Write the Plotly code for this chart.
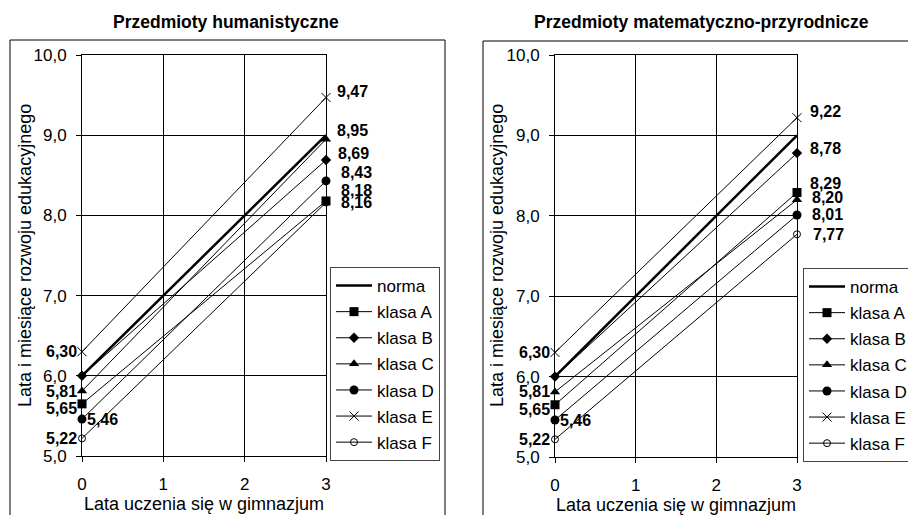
import plotly.graph_objects as go

# ---------------- data ----------------
years = [0, 3]
series_names = ["norma", "klasa A", "klasa B", "klasa C", "klasa D", "klasa E", "klasa F"]

hum_norma = [6.00, 9.00]
hum_A = [5.65, 8.18]
hum_B = [6.00, 8.69]
hum_C = [5.81, 8.95]
hum_D = [5.46, 8.43]
hum_E = [6.30, 9.47]
hum_F = [5.22, 8.16]

mat_norma = [6.00, 9.00]
mat_A = [5.65, 8.29]
mat_B = [6.00, 8.78]
mat_C = [5.81, 8.20]
mat_D = [5.46, 8.01]
mat_E = [6.30, 9.22]
mat_F = [5.22, 7.77]

y_ticks = [5, 6, 7, 8, 9, 10]
x_ticks = [0, 1, 2, 3]

title_left = "Przedmioty humanistyczne"
title_right = "Przedmioty matematyczno-przyrodnicze"
x_title = "Lata uczenia się w gimnazjum"
y_title = "Lata i miesiące rozwoju edukacyjnego"

# ---------------- styles ----------------
FONT = "Liberation Sans, Arial, sans-serif"
# the figure is a little wider than the 908 px window so that the right
# panel and its legend run off the visible edge, as in the reference
W, H = 960, 515

styles = {
    "norma": dict(mode="lines", line=dict(width=2.5), marker=None),
    "klasa A": dict(mode="lines+markers", line=dict(width=1), marker=dict(symbol="square", size=9)),
    "klasa B": dict(mode="lines+markers", line=dict(width=1), marker=dict(symbol="diamond", size=8)),
    "klasa C": dict(mode="lines+markers", line=dict(width=1), marker=dict(symbol="triangle-up", size=9)),
    "klasa D": dict(mode="lines+markers", line=dict(width=1), marker=dict(symbol="circle", size=9)),
    "klasa E": dict(mode="lines+markers", line=dict(width=1),
                    marker=dict(symbol="x-thin", size=9, line=dict(width=1, color="black"))),
    "klasa F": dict(mode="lines+markers", line=dict(width=1),
                    marker=dict(symbol="circle-open", size=7, line=dict(width=1, color="black"))),
}

hum = dict(zip(series_names, [hum_norma, hum_A, hum_B, hum_C, hum_D, hum_E, hum_F]))
mat = dict(zip(series_names, [mat_norma, mat_A, mat_B, mat_C, mat_D, mat_E, mat_F]))

fig = go.Figure()


def add_panel(data, xa, ya, legend):
    for name in series_names:
        st = styles[name]
        kw = dict(x=years, y=data[name], name=name, mode=st["mode"],
                  line=dict(color="black", width=st["line"]["width"]),
                  xaxis=xa, yaxis=ya, legend=legend, legendgroup=name + legend,
                  cliponaxis=False, hoverinfo="skip")
        if st["marker"] is not None:
            m = dict(st["marker"])
            m.setdefault("color", "black")
            kw["marker"] = m
        fig.add_trace(go.Scatter(**kw))


add_panel(hum, "x", "y", "legend")
add_panel(mat, "x2", "y2", "legend2")


def fmt(v):
    return f"{v:.2f}".replace(".", ",")


# label placement (style offsets): series -> (xanchor, xshift, yshift)
start_place = {
    "klasa E": ("right", -3, 0),
    "klasa C": ("right", -3, 0),
    "klasa A": ("right", -3, -5),
    "klasa D": ("left", 3, 0),
    "klasa F": ("right", -3, 0),
}
end_place_left = {
    "klasa E": ("left", 9, 6),
    "klasa C": ("left", 9, 9),
    "klasa B": ("left", 10, 7),
    "klasa D": ("left", 13, 8),
    "klasa A": ("left", 13, 10),
    "klasa F": ("left", 13, 0),
}
end_place_right = {
    "klasa E": ("left", 11, 6),
    "klasa B": ("left", 11, 5),
    "klasa A": ("left", 11, 9),
    "klasa C": ("left", 13, 2),
    "klasa D": ("left", 13, 0),
    "klasa F": ("left", 14, 0),
}

LABEL_FONT = dict(family=FONT, size=16, color="black", weight="bold")
annotations = []


def add_labels(data, xr, yr, end_place):
    for name, (xa, xs, ys) in start_place.items():
        v = data[name][0]
        annotations.append(dict(x=years[0], y=v, xref=xr, yref=yr, text=fmt(v),
                                showarrow=False, xanchor=xa, yanchor="middle",
                                xshift=xs, yshift=ys, font=LABEL_FONT))
    for name, (xa, xs, ys) in end_place.items():
        v = data[name][1]
        annotations.append(dict(x=years[1], y=v, xref=xr, yref=yr, text=fmt(v),
                                showarrow=False, xanchor=xa, yanchor="middle",
                                xshift=xs, yshift=ys, font=LABEL_FONT))


add_labels(hum, "x", "y", end_place_left)
add_labels(mat, "x2", "y2", end_place_right)

TITLE_FONT = dict(family=FONT, size=17.5, color="black", weight="bold")
annotations.append(dict(x=226 / W, y=1 - 22 / H, xref="paper", yref="paper", text=title_left,
                        showarrow=False, xanchor="center", yanchor="middle", font=TITLE_FONT))
annotations.append(dict(x=701 / W, y=1 - 22 / H, xref="paper", yref="paper", text=title_right,
                        showarrow=False, xanchor="center", yanchor="middle", font=TITLE_FONT))

# y-axis titles (rotated), centred on each plot area
title_font = dict(family=FONT, size=18, color="black")
for xpx, ypx in [(25, 256), (497, 256)]:
    annotations.append(dict(x=xpx / W, y=1 - ypx / H, xref="paper", yref="paper", text=y_title,
                            showarrow=False, textangle=-90, xanchor="center", yanchor="middle",
                            font=title_font))

# panel borders
shapes = [
    dict(type="rect", xref="paper", yref="paper", x0=10 / W, x1=445 / W, y0=-0.05, y1=1 - 40 / H,
         line=dict(color="black", width=1), fillcolor="rgba(0,0,0,0)", layer="below"),
    dict(type="rect", xref="paper", yref="paper", x0=483 / W, x1=1.05, y0=-0.05, y1=1 - 41 / H,
         line=dict(color="black", width=1), fillcolor="rgba(0,0,0,0)", layer="below"),
]

tick_font = dict(family=FONT, size=17, color="black")

xcommon = dict(range=[0, 3], tickvals=x_ticks, showgrid=True, gridcolor="black", gridwidth=1,
               showline=True, linecolor="black", linewidth=1, mirror=True,
               ticks="outside", ticklen=5, tickcolor="black", zeroline=False,
               tickfont=tick_font, ticklabelstandoff=8,
               title=dict(text=x_title, font=title_font, standoff=3))
ycommon = dict(range=[5, 10], tickvals=y_ticks, tickformat=".1f", showgrid=True, gridcolor="black",
               gridwidth=1, showline=True, linecolor="black", linewidth=1, mirror=True,
               ticks="outside", ticklen=5, tickcolor="black", zeroline=False,
               tickfont=tick_font, ticklabelstandoff=6)

legend_common = dict(bgcolor="white", bordercolor="#444444", borderwidth=1,
                     font=dict(family=FONT, size=17, color="black"),
                     xanchor="left", yanchor="top", traceorder="grouped", tracegroupgap=1,
                     itemwidth=36)

fig.update_layout(
    width=W, height=H,
    margin=dict(l=0, r=0, t=0, b=0, autoexpand=False),
    paper_bgcolor="white", plot_bgcolor="white",
    separators=", ",
    font=dict(family=FONT, color="black"),
    xaxis=dict(domain=[82 / W, 326 / W], anchor="y", **xcommon),
    yaxis=dict(domain=[(H - 456) / H, (H - 55) / H], anchor="x", **ycommon),
    xaxis2=dict(domain=[555 / W, 797 / W], anchor="y2", **xcommon),
    yaxis2=dict(domain=[(H - 457) / H, (H - 55) / H], anchor="x2", **ycommon),
    legend=dict(x=330 / W, y=(H - 267) / H, **legend_common),
    legend2=dict(x=803 / W, y=(H - 268) / H, **legend_common),
    annotations=annotations,
    shapes=shapes,
    showlegend=True,
)

fig.write_html("out.html",
               config={"displayModeBar": False},
               post_script="document.body.style.margin='0';document.body.style.overflow='hidden';")
